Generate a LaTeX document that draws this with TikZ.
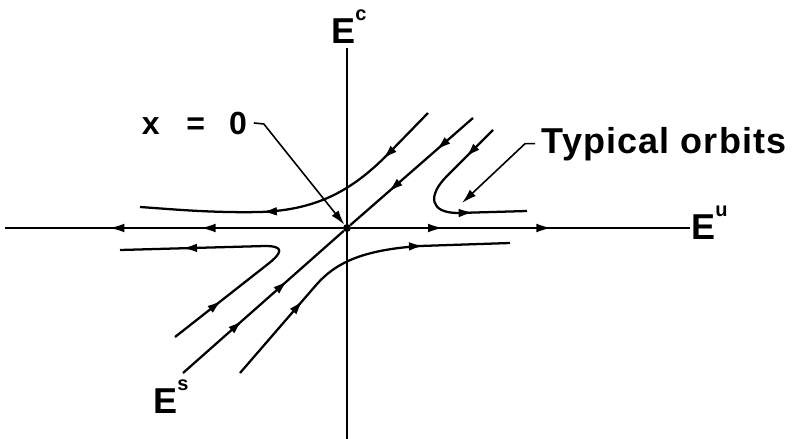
\documentclass[tikz,border=0pt]{standalone}
\usepackage{fontspec}
\setmainfont{Liberation Sans}
\usetikzlibrary{arrows.meta,decorations.markings}

\newcommand{\upidx}[1]{\raisebox{17pt}{\fontsize{15}{15}\selectfont #1}}

\begin{document}
\begin{tikzpicture}[x=0.75pt, y=-0.75pt, >={Latex[length=11pt,width=6.5pt]},
  axis/.style={line width=1pt},
  orbit/.style={line width=1.7pt},
  lead/.style={line width=1.2pt, ->},
  lbl/.style={font=\fontsize{27}{30}\selectfont\bfseries, inner sep=0pt},
  twoarr/.style 2 args={postaction={decorate}, decoration={markings,
      mark=at position #1 with {\arrow{>}}, mark=at position #2 with {\arrow{>}}}}]
\useasboundingbox (0,0) rectangle (797,439);
% Fixed point and ends of the three subspaces
\node[circle, fill, inner sep=0pt, minimum size=6pt] (o) at (347,228) {};
\coordinate (ctop) at (347,48);
\coordinate (cbot) at (347,439);
\coordinate (uw) at (5,228);
\coordinate (ue) at (690,228);
\coordinate (sl) at (183,373);
\coordinate (su) at (473,118);
\coordinate (tyend) at (462,203);

% Center, unstable and stable directions
\draw[axis] (ctop) -- (cbot);
\draw[axis, twoarr={0.42}{0.69}] (o) -- (uw);
\draw[axis, twoarr={0.27}{0.59}] (o) -- (ue);
\draw[orbit, twoarr={0.37}{0.65}] (sl) -- (o);
\draw[orbit, twoarr={0.3}{0.69}] (su) -- (o);

% Orbits near the saddle
\draw[orbit, twoarr={0.2}{0.62}] (428,113) -- (390,152) .. controls (355,188) and (320,210) .. (260,212)
  .. controls (210,213) and (170,209) .. (140,207);
\draw[orbit, twoarr={0.2}{0.72}] (493,130) -- (447,176) .. controls (427,196) and (430,213) .. (458,213) -- (527,211);
\draw[orbit, twoarr={0.3}{0.73}] (240,373) -- (317,284) .. controls (335,264) and (360,250) .. (420,246) -- (510,243);
\draw[orbit, twoarr={0.2}{0.79}] (175,337) -- (268,264) .. controls (282,253) and (285,246) .. (265,246) -- (120,250);

% Labels
\node[lbl, anchor=base west] (ec) at (331,43) {E\upidx{c}};
\node[lbl, anchor=base west] (eu) at (691,239) {E\upidx{u}};
\node[lbl, anchor=base west] (es) at (153,413) {E\upidx{s}};
\node[lbl, font=\fontsize{24}{28}\selectfont\bfseries, anchor=base west, inner xsep=5pt] (xz) at (135,134)
  {x\hspace{20pt}=\hspace{18pt}0};
\node[lbl, anchor=base west, inner xsep=5pt] (typ) at (535,153)
  {\addfontfeatures{LetterSpace=3}Typical orbits};

% Pointers from the labels
\draw[lead] (xz.east) -- ++(10,1) -- (o);
\draw[lead] (typ.west) -- ++(-10,0) -- (tyend);
\end{tikzpicture}
\end{document}
